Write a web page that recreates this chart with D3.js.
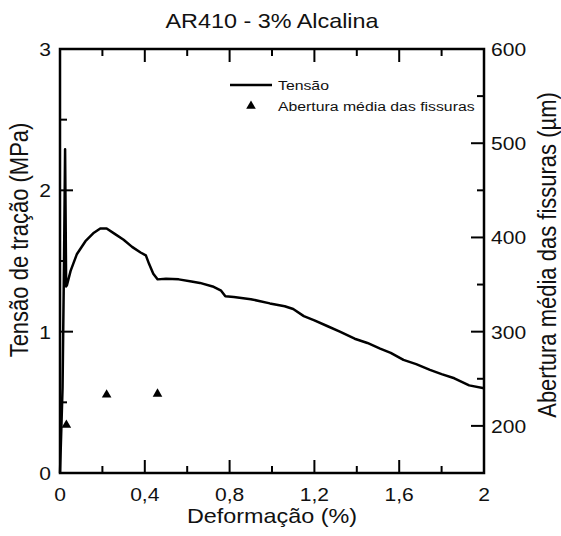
<!DOCTYPE html>
<html><head><meta charset="utf-8">
<script src="https://cdn.jsdelivr.net/npm/d3@7"></script>
<style>body{margin:0;background:#fff}text{font-family:"Liberation Sans",Arial,sans-serif;fill:#111}</style>
</head><body>
<script>
const title = "AR410 - 3% Alcalina";
const strainPct = [0,0.012,0.019,0.024,0.026,0.029,0.033,0.05,0.08,0.12,0.16,0.19,0.22,0.26,0.30,0.34,0.38,0.405,0.42,0.44,0.46,0.50,0.56,0.62,0.66,0.72,0.76,0.78,0.82,0.90,0.99,1.06,1.10,1.15,1.20,1.26,1.32,1.39,1.45,1.51,1.56,1.62,1.68,1.745,1.80,1.86,1.93,2.0];
const stressMPa = [0,0.6,1.5,2.29,1.9,1.32,1.33,1.43,1.55,1.64,1.70,1.73,1.73,1.69,1.65,1.60,1.56,1.54,1.48,1.41,1.37,1.375,1.37,1.355,1.345,1.32,1.29,1.25,1.245,1.23,1.20,1.18,1.16,1.11,1.08,1.04,1.00,0.95,0.92,0.88,0.85,0.80,0.77,0.73,0.70,0.67,0.62,0.60];
const crackStrain = [0.03,0.22,0.46];
const crackOpening = [201,233,234];
const xTicks = [0,0.4,0.8,1.2,1.6,2];
const xMinor = [0.2,0.6,1.0,1.4,1.8];
const yLeftTicks = [0,1,2,3];
const yLeftMinor = [0.5,1.5,2.5];
const yRightTicks = [200,300,400,500,600];
const yRightMinor = [150,250,350,450,550];

const W=561,H=536, L=60,R=484,T=49,B=473;
const svg=d3.select("body").append("svg").attr("width",W).attr("height",H);
const x=d3.scaleLinear().domain([0,2]).range([L,R]);
const y=d3.scaleLinear().domain([0,3]).range([B,T]);
const y2=d3.scaleLinear().domain([150,600]).range([B,T]);
const fmt=d=>String(d).replace(".",",");
const SX=1.17;
function stext(g,xx,yy,s,size,anchor){
  return g.append("text").attr("transform",`translate(${xx},${yy}) scale(${SX},1)`).attr("text-anchor",anchor).attr("font-size",size).text(s);
}
const axSW=2.5, maj=13, mn=7;
svg.append("rect").attr("x",L).attr("y",T).attr("width",R-L).attr("height",B-T).attr("fill","none").attr("stroke","#000").attr("stroke-width",axSW);
const tk=svg.append("g").attr("stroke","#000").attr("stroke-width",2);
xTicks.forEach(v=>{tk.append("line").attr("x1",x(v)).attr("x2",x(v)).attr("y1",B).attr("y2",B-maj);tk.append("line").attr("x1",x(v)).attr("x2",x(v)).attr("y1",T).attr("y2",T+maj);});
xMinor.forEach(v=>{tk.append("line").attr("x1",x(v)).attr("x2",x(v)).attr("y1",B).attr("y2",B-mn);tk.append("line").attr("x1",x(v)).attr("x2",x(v)).attr("y1",T).attr("y2",T+mn);});
yLeftTicks.forEach(v=>tk.append("line").attr("x1",L).attr("x2",L+maj).attr("y1",y(v)).attr("y2",y(v)));
yLeftMinor.forEach(v=>tk.append("line").attr("x1",L).attr("x2",L+mn).attr("y1",y(v)).attr("y2",y(v)));
yRightTicks.forEach(v=>tk.append("line").attr("x1",R).attr("x2",R-maj).attr("y1",y2(v)).attr("y2",y2(v)));
yRightMinor.forEach(v=>tk.append("line").attr("x1",R).attr("x2",R-mn).attr("y1",y2(v)).attr("y2",y2(v)));
const lab=svg.append("g");
xTicks.forEach(v=>stext(lab,x(v),501,fmt(v),18,"middle"));
yLeftTicks.forEach(v=>stext(lab,51,y(v)+7,fmt(v),18,"end"));
yRightTicks.forEach(v=>stext(lab,491,y2(v)+7,fmt(v),18,"start"));
stext(svg,272,28,title,20,"middle");
stext(svg,272,523,"Deformação (%)",20,"middle");
svg.append("text").attr("transform",`translate(28,${240}) rotate(-90) scale(1,${SX})`).attr("text-anchor","middle").attr("font-size",22).text("Tensão de tração (MPa)");
svg.append("text").attr("transform",`translate(556,${255}) rotate(-90) scale(1,${SX})`).attr("text-anchor","middle").attr("font-size",22).text("Abertura média das fissuras (µm)");
const pts=strainPct.map((d,i)=>[d,stressMPa[i]]);
svg.append("path").datum(pts).attr("fill","none").attr("stroke","#000").attr("stroke-width",2.5).attr("stroke-linejoin","round")
  .attr("d",d3.line().x(d=>x(d[0])).y(d=>y(d[1])));
const tri=d3.symbol().type(d3.symbolTriangle).size(40);
svg.append("g").selectAll("path").data(crackStrain).join("path").attr("d",tri)
  .attr("transform",(d,i)=>`translate(${x(d)},${y2(crackOpening[i])})`).attr("fill","#000");
svg.append("line").attr("x1",230).attr("x2",272).attr("y1",85).attr("y2",85).attr("stroke","#000").attr("stroke-width",2.5);
stext(svg,278,90,"Tensão",13.5,"start");
svg.append("path").attr("d",tri).attr("transform","translate(251,106)").attr("fill","#000");
stext(svg,278,111,"Abertura média das fissuras",13.5,"start");
</script>
</body></html>
